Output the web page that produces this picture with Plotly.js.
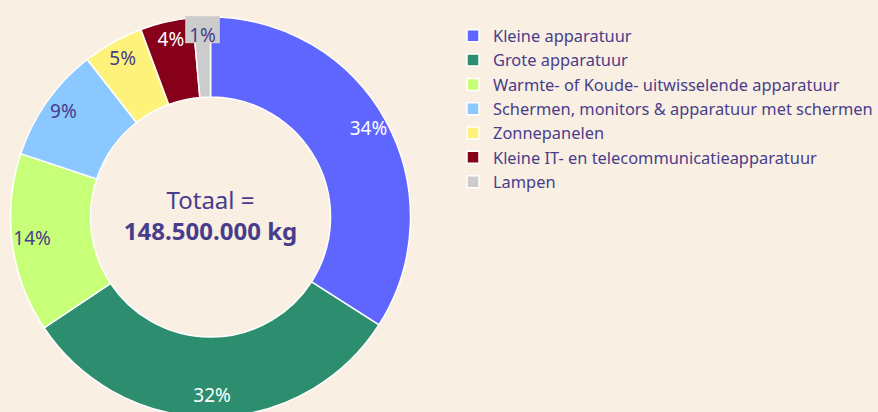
<!DOCTYPE html>
<html>
<head>
<meta charset="utf-8">
<script src="https://cdn.plot.ly/plotly-3.0.1.min.js"></script>
<style>html,body{margin:0;padding:0;background:#f9efe3;overflow:hidden;width:878px;height:412px;}</style>
</head>
<body>
<div id="chart" style="width:878px;height:421px;"></div>
<script>
const categories = [
  "Kleine apparatuur",
  "Grote apparatuur",
  "Warmte- of Koude- uitwisselende apparatuur",
  "Schermen, monitors & apparatuur met schermen",
  "Zonnepanelen",
  "Kleine IT- en telecommunicatieapparatuur",
  "Lampen"
];
// kg
const weightsKg = [50600000, 46900000, 21500000, 13800000, 7300000, 6300000, 2100000];
const totalLabel = "148.500.000 kg";

const sliceColors = ["#5f66ff", "#2d8e6f", "#c8ff78", "#8ac8ff", "#fff27a", "#87001a", "#cccccc"];
const textColors = ["#ffffff", "#ffffff", "#483d8b", "#483d8b", "#483d8b", "#ffffff", "#483d8b"];
const FONT = "'Noto Sans', 'Open Sans', sans-serif";
const DOMAIN = {x: [0, 0.462], y: [0, 1]};

// derived from the data: share of each slice and its middle angle
const total = weightsKg.reduce((a, b) => a + b, 0);
const shares = weightsKg.map(v => v / total);
let acc = 0;
const midAngles = shares.map(s => { const m = (acc + s / 2) * 360; acc += s; return m; });
const pctLabels = shares.map(s => Math.round(s * 100) + "%");

const ringTrace = {
  type: "pie",
  labels: categories,
  values: weightsKg,
  hole: 0.6,
  sort: false,
  direction: "clockwise",
  rotation: 0,
  textinfo: "none",
  hoverinfo: "none",
  marker: {colors: sliceColors, line: {color: "#ffffff", width: 1.5}},
  domain: DOMAIN,
  title: {
    text: "Totaal =<br><b>" + totalLabel + "</b>",
    position: "middle center",
    font: {family: FONT, size: 24, color: "#483d8b"}
  }
};

// percentage labels in the outer part of the ring, on a hidden polar axis sharing the pie's frame
const labelTrace = {
  type: "scatterpolar",
  subplot: "polar",
  mode: "text",
  r: shares.map(() => 0.9),
  theta: midAngles,
  text: pctLabels,
  textposition: "middle center",
  textfont: {family: FONT, size: 19, color: textColors},
  hoverinfo: "none",
  showlegend: false
};

const layout = {
  width: 878,
  height: 421,
  margin: {l: 10, r: 0, t: 17, b: 4},
  paper_bgcolor: "#f9efe3",
  plot_bgcolor: "#f9efe3",
  font: {family: FONT, color: "#483d8b", size: 16},
  showlegend: true,
  polar: {
    domain: DOMAIN,
    bgcolor: "rgba(0,0,0,0)",
    radialaxis: {range: [0, 1], visible: false},
    angularaxis: {visible: false, rotation: 90, direction: "clockwise"}
  },
  legend: {
    x: 1, y: 0.996, xanchor: "right", yanchor: "top",
    font: {family: FONT, size: 16.4, color: "#483d8b"},
    bgcolor: "rgba(0,0,0,0)",
    tracegroupgap: 0
  }
};

Plotly.newPlot("chart", [ringTrace, labelTrace], layout, {displayModeBar: false, staticPlot: true}).then(gd => {
  // draw the label layer above the ring
  const polarLayer = gd.querySelector(".polarlayer");
  if (polarLayer) polarLayer.parentNode.appendChild(polarLayer);
  // the smallest slice's label sits on a box in its slice colour, as in the reference
  const texts = gd.querySelectorAll(".polarlayer g.textpoint text");
  const idx = categories.length - 1;
  const txt = texts[idx];
  if (!txt) return;
  const bb = txt.getBBox();
  const rect = document.createElementNS("http://www.w3.org/2000/svg", "rect");
  rect.setAttribute("x", bb.x - 4);
  rect.setAttribute("y", bb.y - 1);
  rect.setAttribute("width", bb.width + 8);
  rect.setAttribute("height", bb.height + 1);
  rect.setAttribute("fill", sliceColors[idx]);
  txt.parentNode.parentNode.insertBefore(rect, txt.parentNode);
});
</script>
</body>
</html>
